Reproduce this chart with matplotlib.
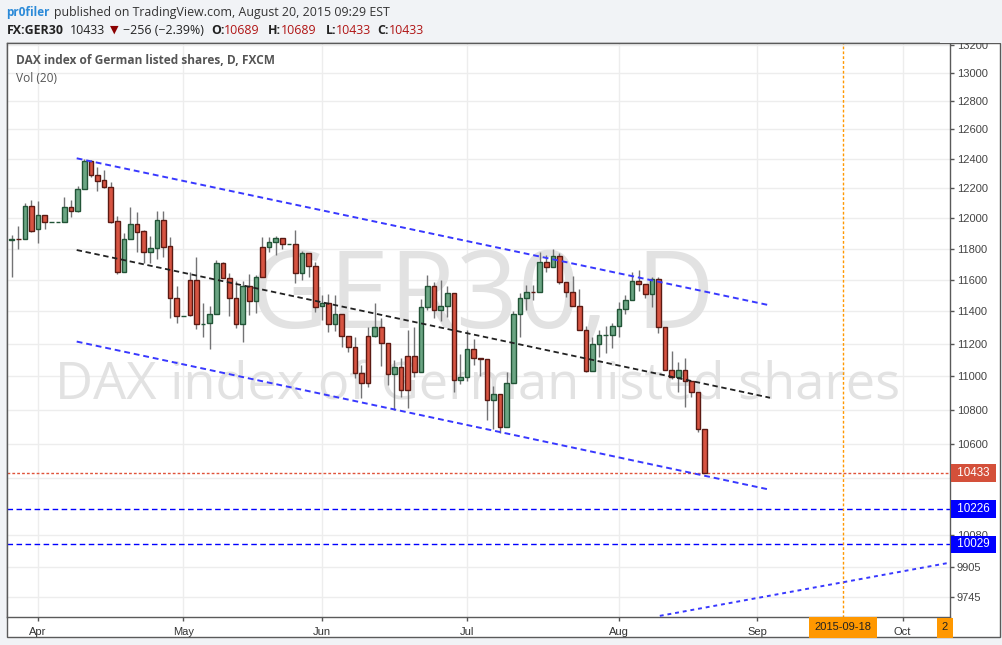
import numpy as np
import pandas as pd
import matplotlib
matplotlib.use("Agg")
import matplotlib.pyplot as plt
from matplotlib.patches import Rectangle
from matplotlib.ticker import FixedLocator, FixedFormatter, NullLocator

# daily bars, FX:GER30, 26 Mar - 20 Aug 2015
dates = pd.bdate_range("2015-03-26", "2015-08-20")
opens = [11860, 11864, 11862, 12081, 11927, 12021, 11974, 11974, 11973, 12073,
         12048, 12193, 12384, 12287, 12254, 12206, 11982, 11653, 11862, 11960,
         11916, 11777, 11803, 11988, 11816, 11484, 11373, 11599, 11599, 11321,
         11326, 11383, 11707, 11614, 11484, 11320, 11563, 11466, 11810, 11810,
         11841, 11867, 11830, 11829, 11642, 11771, 11689, 11435, 11452, 11320,
         11383, 11249, 11181, 11019, 11249, 11249, 11306, 11202, 11013, 11055,
         11126, 11126, 11025, 11430, 11563, 11409, 11437, 11515, 10978, 10995,
         11165, 11110, 11104, 10859, 10893, 10700, 10959, 11383, 11484, 11526,
         11525, 11717, 11681, 11754, 11589, 11525, 11437, 11285, 11036, 11198,
         11254, 11255, 11310, 11414, 11473, 11591, 11572, 11509, 11604, 11301,
         11039, 10995, 11039, 10971, 10905, 10689]
highs = [11890, 11949, 12103, 12121, 12115, 12021, 11975, 11975, 12143, 12121,
         12215, 12395, 12391, 12345, 12323, 12240, 12015, 11901, 12073, 12043,
         11923, 11884, 12048, 12048, 11875, 11561, 11374, 11649, 11749, 11452,
         11435, 11728, 11717, 11642, 11593, 11593, 11638, 11631, 11879, 11875,
         11886, 11867, 11831, 11923, 11788, 11771, 11713, 11504, 11511, 11504,
         11383, 11249, 11239, 11069, 11301, 11456, 11358, 11202, 11100, 11110,
         11285, 11306, 11479, 11631, 11589, 11599, 11561, 11515, 11137, 11285,
         11227, 11110, 11104, 10942, 10893, 11029, 11403, 11515, 11568, 11568,
         11781, 11760, 11797, 11775, 11589, 11625, 11541, 11310, 11243, 11282,
         11310, 11326, 11462, 11504, 11653, 11664, 11572, 11617, 11617, 11301,
         11155, 11090, 11110, 10971, 10905, 10689]
lows = [11621, 11797, 11862, 11912, 11840, 11929, 11974, 11974, 11973, 12010,
        12043, 12193, 12274, 12183, 12199, 11967, 11636, 11653, 11862, 11781,
        11707, 11707, 11732, 11745, 11358, 11326, 11373, 11374, 11289, 11239,
        11165, 11383, 11614, 11374, 11295, 11212, 11378, 11389, 11616, 11781,
        11760, 11799, 11830, 11582, 11599, 11621, 11399, 11348, 11274, 11279,
        11181, 11151, 10992, 10869, 10938, 11239, 11063, 10948, 10799, 10878,
        10809, 10998, 11025, 11409, 11362, 11343, 11368, 10908, 10954, 10974,
        11069, 11004, 10740, 10685, 10661, 10700, 10959, 11243, 11409, 11473,
        11525, 11653, 11681, 11572, 11490, 11437, 11285, 11024, 11036, 11120,
        11141, 11171, 11243, 11384, 11473, 11532, 11484, 11430, 11264, 11039,
        10983, 10908, 10815, 10878, 10671, 10433]
closes = [11862, 11862, 12081, 11916, 12021, 11973, 11975, 11975, 12073, 12050,
          12193, 12384, 12287, 12251, 12206, 11977, 11653, 11862, 11960, 11912,
          11777, 11803, 11988, 11814, 11484, 11374, 11374, 11376, 11320, 11323,
          11383, 11707, 11614, 11484, 11320, 11563, 11466, 11616, 11616, 11841,
          11867, 11831, 11831, 11642, 11771, 11689, 11430, 11452, 11320, 11383,
          11249, 11181, 11019, 10959, 10959, 11306, 11202, 11013, 11055, 10919,
          10919, 11025, 11430, 11563, 11409, 11437, 11515, 10978, 10995, 11167,
          11110, 11104, 10859, 10893, 10700, 10959, 11383, 11484, 11525, 11525,
          11717, 11681, 11754, 11589, 11525, 11437, 11285, 11036, 11198, 11255,
          11256, 11310, 11414, 11473, 11591, 11572, 11509, 11604, 11301, 11039,
          10995, 11039, 10971, 10905, 10689, 10433]

# time axis
all_days = pd.bdate_range("2015-03-26", "2015-10-30")
month_labels = ["Apr", "May", "Jun", "Jul", "Aug", "Sep", "Oct"]
month_starts = ["2015-04-01", "2015-05-01", "2015-06-01", "2015-07-01",
                "2015-08-03", "2015-09-01", "2015-10-01"]
marker_date = "2015-09-18"

# price scale
price_ticks = [13200, 13000, 12800, 12600, 12400, 12200, 12000, 11800, 11600,
               11400, 11200, 11000, 10800, 10600, 10400, 10080, 9905, 9745]
last_price = 10433
levels = [10226, 10029]

# drawn trend lines (bar position, price)
upper_x, upper_y = [9.85, 114.6], [12402, 11441]
mid_x, mid_y = [9.85, 114.9], [11792, 10872]
lower_x, lower_y = [9.85, 114.6], [11213, 10338]
rise_x, rise_y = [98.2, 142.4], [9643, 9931]

W, H = 1003, 645
fig = plt.figure(figsize=(W / 100, H / 100), dpi=100)
fig.patch.set_facecolor("#f1f3f6")

def fx(x):
    return x / W

def fy(y):
    return 1 - y / H

# outer white panel
fig.add_artist(Rectangle((fx(7), fy(637)), fx(1000) - fx(7), fy(42.7) - fy(637),
                         transform=fig.transFigure, facecolor="white",
                         edgecolor="#5a5a5a", lw=1, zorder=-1))

ax = fig.add_axes([fx(7), fy(617), fx(950) - fx(7), fy(42.7) - fy(617)])
ax.set_facecolor("white")
ax.set_yscale("log")

o = np.array(opens, float)
c = np.array(closes, float)
hi = np.array(highs, float)
lo = np.array(lows, float)
x = np.arange(len(dates))
up = c >= o

ax.vlines(x, lo, hi, color="#737375", lw=1, zorder=3)
ax.bar(x[up], np.maximum(c - o, 0.5)[up], bottom=o[up], width=0.68,
       color="#6ba583", edgecolor="#225437", lw=1, zorder=4)
ax.bar(x[~up], (o - c)[~up], bottom=c[~up], width=0.68,
       color="#d75442", edgecolor="#5b1a13", lw=1, zorder=4)

# trend channel
ax.plot(upper_x, upper_y, color="#3838ff", lw=1.4, ls=(0, (3, 2)), zorder=5)
ax.plot(lower_x, lower_y, color="#3838ff", lw=1.4, ls=(0, (3, 2)), zorder=5)
ax.plot(mid_x, mid_y, color="#222222", lw=1.3, ls=(0, (3, 2)), zorder=5)
ax.plot(rise_x, rise_y, color="#3838ff", lw=1.4, ls=(0, (2, 2)), zorder=5)

# horizontal levels
ax.axhline(last_price, color="#e0533a", lw=1, ls=(0, (2, 1.5)), zorder=2)
for lv in levels:
    ax.axhline(lv, color="#0000ff", lw=1, ls=(0, (4, 2.5)), zorder=2)

pos = all_days.get_indexer(pd.to_datetime(month_starts))
mpos = all_days.get_indexer(pd.to_datetime([marker_date]))[0]
ax.axvline(mpos, ymin=-0.035, ymax=1, color="#ff9800", lw=1,
           ls=(0, (2, 1.5)), clip_on=False, zorder=2)

ax.set_xlim(-0.71, 142.17)
ax.set_ylim(9637, 13216)

# watermark
ax.text(0.504, 0.552, "GER30, D", transform=ax.transAxes, ha="center",
        va="center", fontsize=78, color="#e2e2e2", family="Open Sans", zorder=1)
ax.text(0.4995, 0.404, "DAX index of German listed shares", transform=ax.transAxes,
        ha="center", va="center", fontsize=37.7, color="#e2e2e2",
        family="Open Sans", zorder=1)

ax.text(9 / 943, 1 - 18 / 574.3, "DAX index of German listed shares, D, FXCM",
        transform=ax.transAxes, ha="left", va="center", fontsize=8.6,
        fontweight="bold", color="#555555", family="Open Sans")
ax.text(9 / 943, 1 - 35.5 / 574.3, "Vol (20)", transform=ax.transAxes,
        ha="left", va="center", fontsize=8.6, color="#555555", family="Open Sans")

# axes styling
ax.yaxis.tick_right()
ax.yaxis.set_major_locator(FixedLocator(price_ticks))
ax.yaxis.set_major_formatter(FixedFormatter([str(p) for p in price_ticks]))
ax.yaxis.set_minor_locator(NullLocator())
ax.xaxis.set_major_locator(FixedLocator(pos))
ax.xaxis.set_major_formatter(FixedFormatter(month_labels))
ax.xaxis.set_minor_locator(NullLocator())
ax.tick_params(axis="y", length=3, width=1, color="#555555", labelsize=8,
               labelcolor="#444444", pad=2)
ax.tick_params(axis="x", length=3, width=1, color="#555555", labelsize=8,
               labelcolor="#333333", pad=4)
for lbl in ax.get_xticklabels() + ax.get_yticklabels():
    lbl.set_family("Liberation Sans")
ax.grid(True, color="#ededed", lw=1, zorder=0)
ax.set_axisbelow(True)
for side in ["left", "right", "bottom", "top"]:
    ax.spines[side].set_color("#5a5a5a")
    ax.spines[side].set_linewidth(1)

# price labels on the scale (they sit on top of the 10400 / 10080 ticks)
def price_tag(val, face):
    ax.annotate(f" {val} ", xy=(1, val), xycoords=("axes fraction", "data"),
                xytext=(4, 0), textcoords="offset pixels", ha="left", va="center",
                fontsize=8.4, color="white", family="Liberation Sans",
                bbox=dict(boxstyle="square,pad=0.25", fc=face, ec="none"),
                annotation_clip=False, zorder=10)

price_tag(last_price, "#d4503a")
for lv in levels:
    price_tag(lv, "#0000ff")

# date tag on the time scale
ax.annotate(marker_date, xy=(mpos, 0), xycoords=("data", "axes fraction"),
            xytext=(0, -10.5), textcoords="offset pixels", ha="center", va="center",
            fontsize=8, color="#222222", family="Liberation Sans",
            bbox=dict(boxstyle="square,pad=0.5", fc="#ff9800", ec="none"),
            annotation_clip=False, zorder=10)
ax.annotate("2", xy=(1, 0), xycoords="axes fraction",
            xytext=(-2, -10.5), textcoords="offset pixels", ha="right", va="center",
            fontsize=8, color="#222222", family="Liberation Sans",
            bbox=dict(boxstyle="square,pad=0.45", fc="#ff9800", ec="none"),
            annotation_clip=False, zorder=10)

# hide the part of 13200 sticking above the panel
fig.add_artist(Rectangle((fx(940), fy(42.5)), fx(1003) - fx(940), fy(0) - fy(42.5),
                         transform=fig.transFigure, facecolor="#f1f3f6",
                         edgecolor="none", zorder=20))

# header
hdr = "Open Sans"
fig.text(fx(6), fy(12.3), "pr0filer", color="#2b8ad8", fontsize=8.5,
         fontweight="bold", family=hdr, va="center")
fig.text(fx(54), fy(12.3), "published on TradingView.com, August 20, 2015 09:29 EST",
         color="#333333", fontsize=8.9, family=hdr, va="center")
pieces = [
    (7, "FX:GER30", "#222222", "bold"),
    (70, "10433", "#222222", "normal"),
    (123, "\u2212256 (\u22122.39%)", "#222222", "normal"),
    (211, "O:", "#222222", "bold"),
    (224, "10689", "#b01515", "normal"),
    (268, "H:", "#222222", "bold"),
    (281, "10689", "#b01515", "normal"),
    (326, "L:", "#222222", "bold"),
    (336, "10433", "#b01515", "normal"),
    (377, "C:", "#222222", "bold"),
    (389, "10433", "#b01515", "normal"),
]
for px_, s, col, wt in pieces:
    fig.text(fx(px_), fy(30), s, color=col, fontsize=8.9, fontweight=wt,
             family=hdr, va="center")
fig.text(fx(114), fy(30), "\u25bc", color="#8b0000", fontsize=8,
         family="DejaVu Sans", va="center", ha="center")

fig.savefig("out.png", dpi=100, facecolor=fig.get_facecolor())
